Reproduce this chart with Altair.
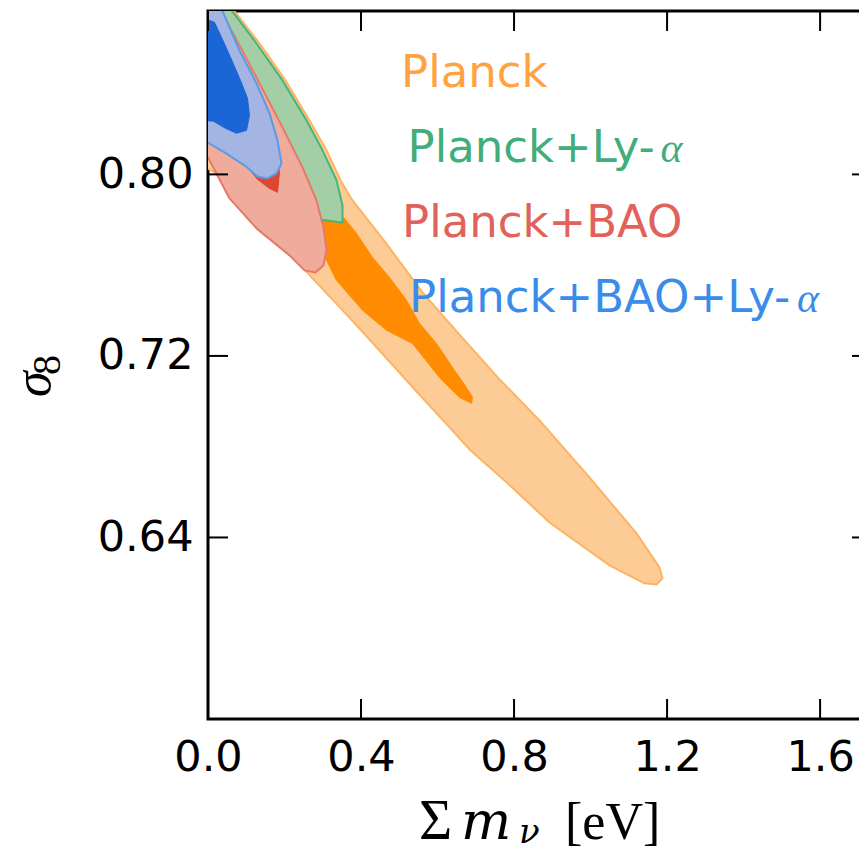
import altair as alt
import pandas as pd

# ---------------- data ----------------
x_ticks = [0.0, 0.4, 0.8, 1.2, 1.6]
y_ticks = [0.64, 0.72, 0.80]

# Planck: 2-sigma (outer) and 1-sigma (inner) contours
planck_2s_x = [-0.01, 0.055, 0.1346, 0.2026, 0.2653, 0.3098, 0.3464, 0.3777, 0.4639, 0.5607,
               0.6522, 0.762, 0.8665, 0.9972, 1.1201, 1.1802, 1.1881, 1.1724, 1.141, 1.0495,
               0.8927, 0.7803, 0.6836, 0.6313, 0.5398, 0.4483, 0.362, 0.2732, 0.1869, 0.1216,
               0.0614, 0.017, -0.01]
planck_2s_y = [0.876, 0.875, 0.8577, 0.8414, 0.8238, 0.8106, 0.7974, 0.7885, 0.7700, 0.7480,
               0.7304, 0.7097, 0.6916, 0.6665, 0.6418, 0.6268, 0.6220, 0.6193, 0.6198, 0.6277,
               0.6466, 0.6643, 0.6788, 0.6885, 0.7053, 0.7224, 0.7383, 0.7542, 0.77, 0.7819,
               0.7929, 0.8009, 0.8035]
planck_1s_x = [0.2653, 0.3568, 0.3882, 0.43, 0.4744, 0.5189, 0.5529, 0.5973, 0.6391, 0.6757,
               0.6914, 0.6888, 0.6574, 0.6051, 0.5346, 0.4666, 0.4039, 0.3359, 0.3098, 0.2915]
planck_1s_y = [0.7819, 0.7806, 0.774, 0.7634, 0.7546, 0.7445, 0.7343, 0.7255, 0.7149, 0.7061,
               0.7017, 0.6991, 0.7017, 0.7105, 0.7255, 0.7313, 0.7401, 0.7533, 0.7621, 0.7709]

# Planck + Ly-alpha
lya_2s_x = [-0.01, 0.052, 0.1268, 0.1947, 0.2575, 0.2993, 0.3359, 0.3516, 0.3516, 0.2836,
            0.213, 0.1608, 0.1085, 0.0562, -0.01]
lya_2s_y = [0.876, 0.8745, 0.8577, 0.8414, 0.8238, 0.8106, 0.7974, 0.7863, 0.7788, 0.7802,
            0.7877, 0.7947, 0.8018, 0.8084, 0.815]

# Planck + BAO
bao_2s_x = [-0.01, 0.025, 0.0823, 0.1268, 0.1947, 0.247, 0.2836, 0.3019, 0.3098, 0.3019,
            0.281, 0.2523, 0.213, 0.1268, 0.0562, 0.0039, -0.01]
bao_2s_y = [0.876, 0.8745, 0.8569, 0.8427, 0.8207, 0.8031, 0.7885, 0.7766, 0.7665, 0.7599,
            0.7568, 0.7577, 0.7643, 0.7762, 0.7894, 0.8062, 0.81]
bao_1s_x = [-0.01, 0.014, 0.0693, 0.1137, 0.1477, 0.1686, 0.1817, 0.1869, 0.1817, 0.1608,
            0.1294, 0.0954, 0.0431, -0.01]
bao_1s_y = [0.876, 0.876, 0.8546, 0.8401, 0.8269, 0.815, 0.8062, 0.8009, 0.7921, 0.7938,
            0.7978, 0.8048, 0.8106, 0.8159]

# Planck + BAO + Ly-alpha
all_2s_x = [-0.01, 0.028, 0.0823, 0.1268, 0.1608, 0.1817, 0.1921, 0.1791, 0.1555, 0.1294,
            0.0954, 0.0431, -0.01]
all_2s_y = [0.876, 0.876, 0.8546, 0.8401, 0.8269, 0.815, 0.8048, 0.8004, 0.7982, 0.7991,
            0.804, 0.8097, 0.815]
all_1s_x = [-0.01, 0.017, 0.0353, 0.0588, 0.085, 0.1033, 0.1085, 0.1006, 0.0745, 0.0457,
            0.0144, -0.01]
all_1s_y = [0.8687, 0.867, 0.8604, 0.8516, 0.8414, 0.8335, 0.826, 0.8194, 0.8181, 0.8203,
            0.8234, 0.8238]

labels = ["Planck", "Planck+Ly-α", "Planck+BAO", "Planck+BAO+Ly-α"]
label_colors = ["#FFA23F", "#3FAE7A", "#E0625A", "#3A8CEB"]

# ---------------- chart ----------------
W, H = 658, 708
xs = alt.Scale(domain=[0, 1.72], nice=False, zero=False)
ys = alt.Scale(domain=[0.56, 0.872], nice=False, zero=False)
xaxis = alt.Axis(values=x_ticks, format=".1f", title=None, grid=False, ticks=False, tickSize=0,
                 domain=False, labelFont="DejaVu Sans", labelFontSize=43, labelColor="black",
                 labelPadding=17, labelFlush=False, labelOverlap=False)
yaxis = alt.Axis(values=y_ticks, format=".2f", title=None, grid=False, ticks=False, tickSize=0,
                 domain=False, labelFont="DejaVu Sans", labelFontSize=43, labelColor="black",
                 labelPadding=15, labelFlush=False, labelOverlap=False)


def poly(xv, yv, fill, stroke, sw):
    df = pd.DataFrame({"x": xv + [xv[0]], "y": yv + [yv[0]], "i": list(range(len(xv) + 1))})
    return alt.Chart(df).mark_line(fill=fill, stroke=stroke, strokeWidth=sw, clip=True,
                                   strokeJoin="round").encode(
        x=alt.X("x:Q", scale=xs, axis=xaxis),
        y=alt.Y("y:Q", scale=ys, axis=yaxis),
        order="i:Q",
    )


layers = [
    poly(planck_2s_x, planck_2s_y, "#FDCC96", "#FDB462", 2),
    poly(planck_1s_x, planck_1s_y, "#FF8C00", "#FF8C00", 1),
    poly(lya_2s_x, lya_2s_y, "#A4CFA6", "#45B57C", 2),
    poly(bao_2s_x, bao_2s_y, "#EFAB9B", "#E57A68", 2),
    poly(bao_1s_x, bao_1s_y, "#DC4632", "#DC4632", 1),
    poly(all_2s_x, all_2s_y, "#A5B5E3", "#5A9BE6", 2),
    poly(all_1s_x, all_1s_y, "#1A66D6", "#1A66D6", 1),
]

# inward ticks
tx = pd.DataFrame({"v": x_ticks})
ty = pd.DataFrame({"v": y_ticks})
rule = dict(color="black", strokeWidth=2)
layers += [
    alt.Chart(tx).mark_rule(**rule).encode(x=alt.X("v:Q", scale=xs, axis=xaxis),
                                           y=alt.value(H), y2=alt.value(H - 20)),
    alt.Chart(tx).mark_rule(**rule).encode(x=alt.X("v:Q", scale=xs, axis=xaxis),
                                           y=alt.value(0), y2=alt.value(20)),
    alt.Chart(ty).mark_rule(**rule).encode(y=alt.Y("v:Q", scale=ys, axis=yaxis),
                                           x=alt.value(0), x2=alt.value(20)),
    alt.Chart(ty).mark_rule(**rule).encode(y=alt.Y("v:Q", scale=ys, axis=yaxis),
                                           x=alt.value(W), x2=alt.value(W - 14)),
]


def txt(s, px, py, **kw):
    return alt.Chart(pd.DataFrame({"t": [s]})).mark_text(align="left", baseline="alphabetic",
                                                          **kw).encode(
        x=alt.value(px), y=alt.value(py), text="t:N")


# legend-like labels (alpha set in a serif italic, as in the reference)
pos = [(193, 76), (199.5, 151), (194, 226), (201, 301)]
alpha_dx = {1: 253, 3: 388}
for k, (s, c, (px, py)) in enumerate(zip(labels, label_colors, pos)):
    if s.endswith("α"):
        layers.append(txt(s[:-1], px, py, font="DejaVu Sans", fontSize=45, color=c))
        layers.append(txt("α", px + alpha_dx[k], py, font="Liberation Serif", fontSize=42,
                          fontStyle="italic", color=c))
    else:
        layers.append(txt(s, px, py, font="DejaVu Sans", fontSize=45, color=c))

# x title: Σ m_ν [eV]
serif = "Liberation Serif"
layers += [
    txt("Σ", 211, 828, font=serif, fontSize=57, color="black"),
    txt("m", 253, 828, font="DejaVu Serif", fontSize=53, fontStyle="italic", color="black"),
    txt("ν", 311, 832, font="DejaVu Serif", fontSize=34, fontStyle="italic", color="black"),
    txt("[eV]", 357, 828, font=serif, fontSize=52, color="black"),
]
# y title: σ_8 (rotated)
layers += [
    txt("σ", -158, 386, font=serif, fontSize=52, fontStyle="italic", color="black", angle=270),
    txt("8", -148, 364, font=serif, fontSize=40, color="black", angle=270),
]

chart = alt.layer(*layers).properties(
    width=W, height=H, autosize="none",
    padding={"left": 200, "top": 3, "right": -7, "bottom": 133},
).configure(
    background="white",
    view=alt.ViewConfig(stroke="black", strokeWidth=3),
)

chart.save("out.html", embed_options={"renderer": "svg", "actions": False})
